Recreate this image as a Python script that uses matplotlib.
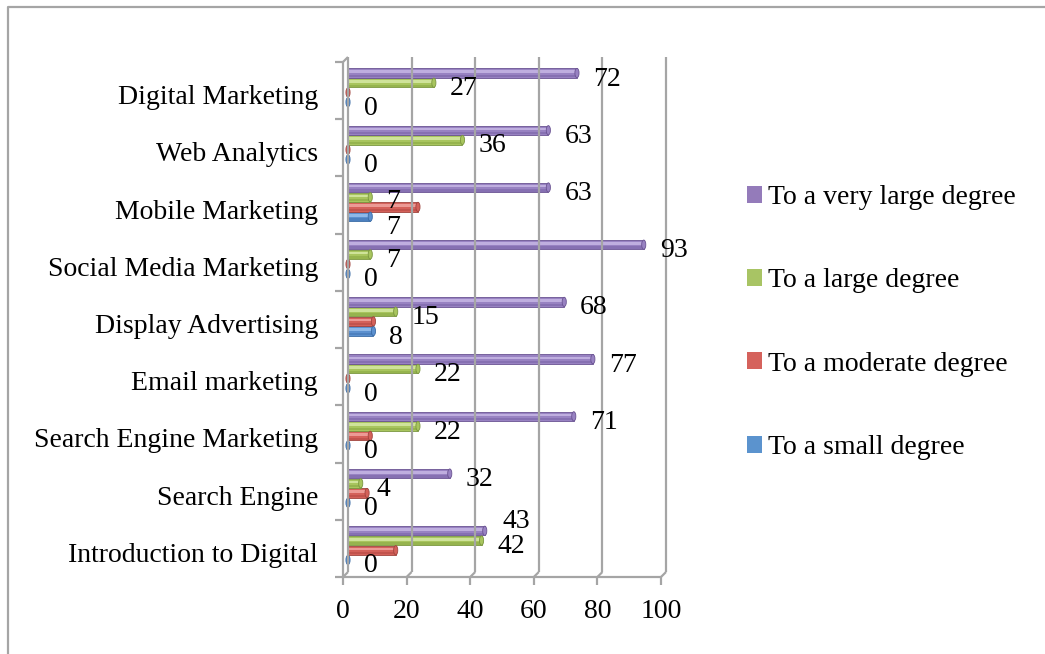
import matplotlib
matplotlib.use("Agg")
import matplotlib.pyplot as plt
from matplotlib.patches import Ellipse, Rectangle
from matplotlib.lines import Line2D
from matplotlib.transforms import IdentityTransform
import numpy as np

# data, bottom -> top
categories = ["Introduction to Digital", "Search Engine", "Search Engine Marketing",
              "Email marketing", "Display Advertising", "Social Media Marketing",
              "Mobile Marketing", "Web Analytics", "Digital Marketing"]
small = [0, 0, 0, 0, 8, 0, 7, 0, 0]
moderate = [15, 6, 7, 0, 8, 0, 22, 0, 0]
large = [42, 4, 22, 22, 15, 7, 7, 36, 27]
very_large = [43, 32, 71, 77, 68, 93, 63, 63, 72]
series_names = ["To a small degree", "To a moderate degree",
                "To a large degree", "To a very large degree"]
xticks = [0, 20, 40, 60, 80, 100]

# fill, edge, highlight, shade, legend  (excel 2007 look)
colors = [("#5B90CF", "#3A6BA5", "#8EB8E8", "#4C80BF", "#5B93CE"),
          ("#D4615A", "#A0443E", "#EC9A95", "#C2534D", "#D5625C"),
          ("#A8C55E", "#7A9640", "#CFE39A", "#96B44E", "#A8C464"),
          ("#9882C2", "#6A5392", "#BFAEDF", "#8670B2", "#947BBA")]
offsets = [-0.29, -0.12, 0.05, 0.22]
show_label = [True, False, True, True]
bar_h = 0.162
# label nudges in pixels (series index, category index) -> (dx, dy)
nudge = {(3, 0): (2, 15), (0, 6): (0, -5), (2, 6): (0, 2)}

plt.rcParams["font.family"] = ["Liberation Serif", "DejaVu Serif"]
FS = 20
GRID = "#A5A5A5"

W, H = 1045, 654
fig = plt.figure(figsize=(W / 100, H / 100), dpi=100)
# back wall of the 3d plot area, in pixels
left, right, top, bottom = 348, 666, 57, 572
ax = fig.add_axes([left / W, 1 - bottom / H, (right - left) / W, (bottom - top) / H])
ax.set_xlim(0, 100)
ax.set_ylim(-0.5, len(categories) - 0.5)
ax.axis("off")

y = np.arange(len(categories))
all_series = [small, moderate, large, very_large]

def px(xv, yv, dx=0, dy=0):
    X, Y = ax.transData.transform((xv, yv))
    return X + dx, Y + dy

def line(p0, p1, lw=2.2, color=GRID):
    fig.add_artist(Line2D([p0[0], p1[0]], [p0[1], p1[1]], transform=IdentityTransform(),
                          color=color, lw=lw * 0.72, solid_capstyle="butt"))

# back grid lines + floor connectors
ytop, ybot = len(categories) - 0.5, -0.5
fdx, fdy = -5, -5  # front plane offset
for v in xticks:
    line(px(v, ybot), px(v, ytop))
    line(px(v, ybot, fdx, fdy), px(v, ybot))
# front frame
line(px(0, ybot, fdx, fdy), px(100, ybot, fdx, fdy))
line(px(0, ybot, fdx, fdy), px(0, ytop, fdx, fdy))
line(px(0, ytop, fdx, fdy), px(0, ytop))
for v in xticks:
    line(px(v, ybot, fdx, fdy), px(v, ybot, fdx, fdy - 8))
    fig.text(*px(v, ybot, fdx, -40), str(v), transform=IdentityTransform(),
             ha="center", va="center", fontsize=FS)
for i in range(len(categories) + 1):
    line(px(0, i - 0.5, fdx, fdy), px(0, i - 0.5, fdx - 8, fdy))
for i, name in enumerate(categories):
    fig.text(*px(0, i, -30, -12), name, transform=IdentityTransform(),
             ha="right", va="center", fontsize=FS)

# cylinder-ish bars
handles = []
for s, (vals, (fc, ec, hl, sh, lc), off, lab, name) in enumerate(
        zip(all_series, colors, offsets, show_label, series_names)):
    yy = y + off
    ax.barh(yy, vals, height=bar_h, color=fc, edgecolor=ec, linewidth=0.6, zorder=3)
    ax.barh(yy + bar_h * 0.14, vals, height=bar_h * 0.28, color=hl, linewidth=0, zorder=3)
    ax.barh(yy - bar_h * 0.32, vals, height=bar_h * 0.25, color=sh, linewidth=0, zorder=3)
    for c, (v, yc) in enumerate(zip(vals, yy)):
        ax.add_patch(Ellipse((v, yc), 1.3, bar_h, facecolor=fc, edgecolor=ec, lw=0.6,
                             zorder=4, clip_on=False))
        if lab:
            ndx, ndy = nudge.get((s, c), (0, 0))
            fig.text(*px(v, yc, 16 + ndx, -6 + ndy), str(v), transform=IdentityTransform(),
                     ha="left", va="center", fontsize=FS)
    handles.append(Rectangle((0, 0), 1, 1, facecolor=lc, edgecolor="none", label=name))

fig.legend(handles=handles[::-1], loc="upper left", bbox_to_anchor=(747 / W, 1 - 185 / H),
           frameon=False, fontsize=FS, handlelength=0.55, handleheight=0.55,
           handletextpad=0.2, labelspacing=2.1, borderaxespad=0, borderpad=0)

# outer chart border
fig.add_artist(Line2D([8, 8, W + 5], [-5, H - 7, H - 7], transform=IdentityTransform(),
                      color=GRID, lw=1.6))

fig.savefig("out.png", dpi=100)
